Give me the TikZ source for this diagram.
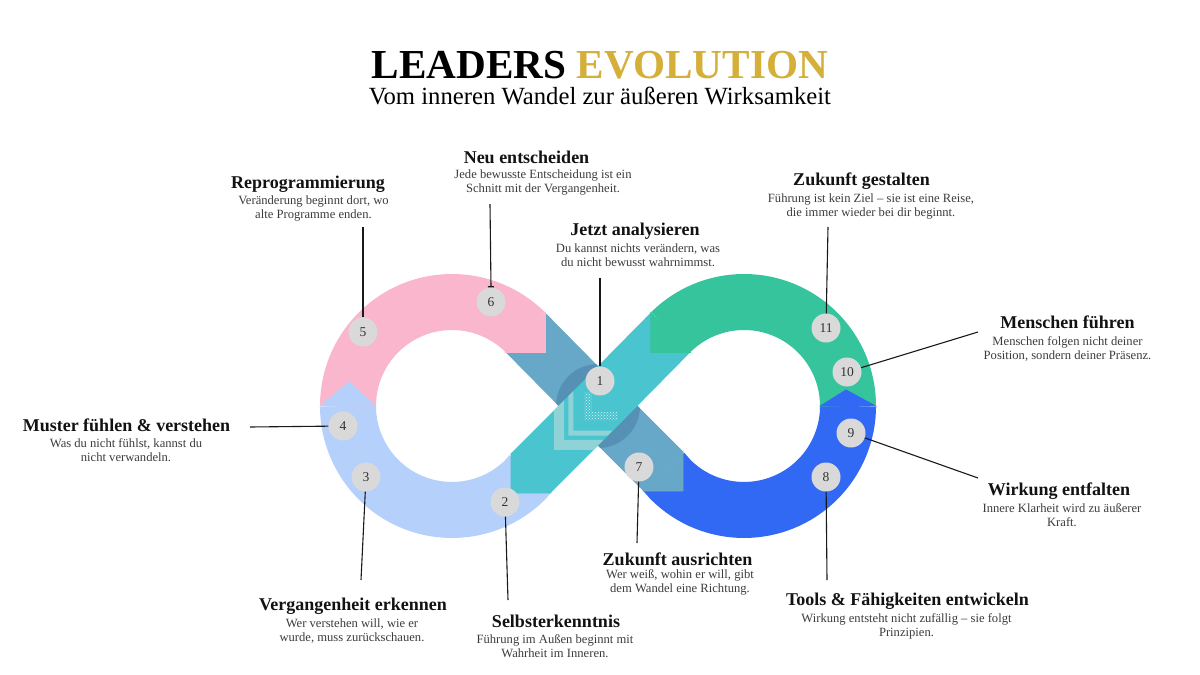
\documentclass[tikz,border=0pt]{standalone}
\usepackage{fontspec}
\setmainfont{Liberation Serif}
\usetikzlibrary{patterns,arrows.meta}
\definecolor{pinkc}{HTML}{F9B6CC}
\definecolor{lblue}{HTML}{B4D0FB}
\definecolor{steel}{HTML}{67A8C8}
\definecolor{tealc}{HTML}{4AC4CF}
\definecolor{greenc}{HTML}{36C49C}
\definecolor{bluec}{HTML}{3269F4}
\definecolor{gold}{HTML}{D4AF3A}
\definecolor{numfill}{HTML}{D9D9D9}
\definecolor{bodytxt}{HTML}{3C3C3C}
\definecolor{chev}{HTML}{8FD3D6}
\definecolor{darkring}{HTML}{5690B4}
\newcommand\mylbl[8]{%
  \node[head] (#1) at (#2,#3) {#4};
  \node[body] (#1a) at (#5,#6) {#7};
  \node[body] (#1b) at (#5,#6+14.5) {#8};}
\begin{document}
\begin{tikzpicture}[x=1pt,y=-1pt,
  band/.style={line width=56pt},
  tip/.style={line width=0.9pt, line join=miter},
  head/.style={font=\fontsize{18}{20}\selectfont\bfseries, text=black!93, inner sep=0pt, anchor=base},
  body/.style={font=\fontsize{12.6}{14}\selectfont, text=bodytxt, inner sep=0pt, anchor=base},
  num/.style={circle, fill=numfill, minimum size=29pt, inner sep=0pt, font=\fontsize{13.5}{13.5}\selectfont, text=black!80},
  conn/.style={line width=1.1pt, black!90}]
\fill[white] (0,0) rectangle (1200,675);
\useasboundingbox (0,0) rectangle (1200,675);

% title
\node[anchor=base, inner sep=0pt] (title) at (600,78) {\resizebox{456pt}{!}{\bfseries LEADERS \textcolor{gold}{EVOLUTION}}};
\node[anchor=base, inner sep=0pt] (subtitle) at (600,104) {\resizebox{462pt}{!}{Vom inneren Wandel zur äußeren Wirksamkeit}};

% key points
\coordinate (X) at (598,406);
\coordinate (T1L) at (525.5,332.5);
\coordinate (T2L) at (525.5,479.5);
\coordinate (T1R) at (670.5,332.5);
\coordinate (T2R) at (670.5,479.5);
\coordinate (BT) at (530.8,473.2);
\coordinate (BS) at (663.2,471.2);

% loop bands
\draw[band, lblue] (BT) -- (T2L) arc[start angle=45, end angle=180, radius=104];
\draw[band, pinkc] (348,406) arc[start angle=180, end angle=315, radius=104];
\draw[band, bluec] (BS) -- (T2R) arc[start angle=135, end angle=0, radius=104];
\draw[band, greenc] (848,406) arc[start angle=0, end angle=-135, radius=104];
% crossing bands
\draw[band, steel] (T1L) -- (X) -- (BS);
\begin{scope}
  \clip (X) circle[radius=42];
  \draw[band, darkring] (T1L) -- (X) -- (BS);
\end{scope}
\draw[band, tealc] (T1R) -- (X) -- (BT);

% chevrons inside the teal band
\begin{scope}
  \clip (650.7,312.7) -- (690.3,352.3) -- (550.6,493) -- (511,453.4) -- cycle;
  \fill[chev] (554.2,449.8) -- (554.2,410.2) -- (564.1,400.3) -- (564.1,439.9) -- (603.7,439.9) -- (593.8,449.8) -- cycle;
  \fill[chev] (568.3,435.7) -- (568.3,396.1) -- (573.3,391.1) -- (573.3,430.7) -- (612.9,430.7) -- (607.9,435.7) -- cycle;
  \fill[pattern=crosshatch dots, pattern color=white!85!tealc] (584,420) -- (584,392) -- (592,392) -- (592,412) -- (618,412) -- (618,420) -- cycle;
\end{scope}

% arrow tips
\filldraw[tip, pinkc] (545.3,312.7) -- (545.3,352.3) -- (505.7,352.3) -- cycle;
\filldraw[tip, greenc] (650.7,312.7) -- (650.7,352.3) -- (690.3,352.3) -- cycle;
\filldraw[tip, tealc] (511,453.4) -- (511,493) -- (550.6,493) -- cycle;
\filldraw[tip, steel] (683,451.4) -- (683,491) -- (643.4,491) -- cycle;
\filldraw[tip, lblue] (320.5,406) -- (349,382) -- (375.5,406) -- cycle;
\filldraw[tip, bluec] (820.5,406) -- (846,390) -- (875.5,406) -- cycle;

% numbers
\node[num] (n1) at (600,381) {1};
\node[num] (n2) at (505,502) {2};
\node[num] (n3) at (366,477) {3};
\node[num] (n4) at (343,426) {4};
\node[num] (n5) at (363,332) {5};
\node[num] (n6) at (491,302) {6};
\node[num] (n7) at (639,467) {7};
\node[num] (n8) at (826,477) {8};
\node[num] (n9) at (851,433) {9};
\node[num] (n10) at (847,372) {10};
\node[num] (n11) at (826,328) {11};

% labels
\mylbl{neu}{526.5}{163}{Neu entscheiden}{543}{178}{Jede bewusste Entscheidung ist ein}{Schnitt mit der Vergangenheit.}
\mylbl{rep}{308}{188}{Reprogrammierung}{313.5}{204}{Veränderung beginnt dort, wo}{alte Programme enden.}
\mylbl{jetzt}{635}{235}{Jetzt analysieren}{638}{252}{Du kannst nichts verändern, was}{du nicht bewusst wahrnimmst.}
\mylbl{zges}{861.5}{185}{Zukunft gestalten}{871}{202}{Führung ist kein Ziel – sie ist eine Reise,}{die immer wieder bei dir beginnt.}
\mylbl{men}{1067.5}{328}{Menschen führen}{1067.5}{345}{Menschen folgen nicht deiner}{Position, sondern deiner Präsenz.}
\mylbl{mus}{126.5}{431}{Muster fühlen \& verstehen}{126}{447}{Was du nicht fühlst, kannst du}{nicht verwandeln.}
\mylbl{wirk}{1059}{495}{Wirkung entfalten}{1062}{512}{Innere Klarheit wird zu äußerer}{Kraft.}
\mylbl{verg}{353}{610}{Vergangenheit erkennen}{352}{627}{Wer verstehen will, wie er}{wurde, muss zurückschauen.}
\mylbl{selbst}{556}{627}{Selbsterkenntnis}{555}{643}{Führung im Außen beginnt mit}{Wahrheit im Inneren.}
\mylbl{zausr}{677.5}{565}{Zukunft ausrichten}{680}{578}{Wer weiß, wohin er will, gibt}{dem Wandel eine Richtung.}
\mylbl{tools}{907.5}{605}{Tools \& Fähigkeiten entwickeln}{906.5}{622}{Wirkung entsteht nicht zufällig – sie folgt}{Prinzipien.}

% connector ends
\coordinate (c1) at (600,278);
\coordinate (c2) at (508,600);
\coordinate (c3) at (361,580);
\coordinate (c4) at (250,427);
\coordinate (c5) at (363,227);
\coordinate (c6) at (490,204);
\coordinate (c7) at (637,543);
\coordinate (c8) at (827,580);
\coordinate (c9) at (978,478);
\coordinate (c10) at (978,332);
\coordinate (c11) at (828,227);

\draw[conn] (c1) -- (n1);
\draw[conn] (n2) -- (c2);
\draw[conn] (n3) -- (c3);
\draw[conn] (c4) -- (n4);
\draw[conn] (c5) -- (n5);
\draw[conn, -{Bar[width=6pt]}] (c6) -- (n6.north);
\draw[conn] (n7) -- (c7);
\draw[conn] (n8) -- (c8);
\draw[conn] (n9) -- (c9);
\draw[conn] (n10) -- (c10);
\draw[conn] (c11) -- (n11);
\end{tikzpicture}
\end{document}
